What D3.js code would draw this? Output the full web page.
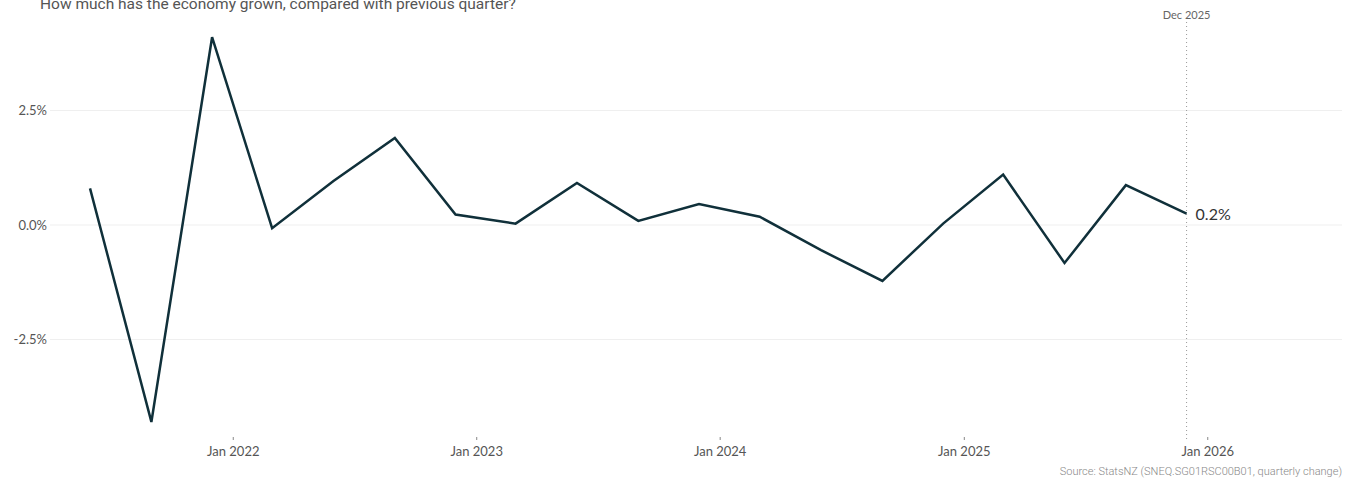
<!DOCTYPE html>
<html>
<head>
  <meta charset="utf-8">
  <title>NZ GDP quarterly change</title>
  <script src="https://d3js.org/d3.v7.min.js"></script>
  <style>
    body { margin: 0; background: #fff; }
    svg { display: block; }
  </style>
</head>
<body>
  <script>
    // quarterly growth, % change on previous quarter
    var quarters = ["2021-06", "2021-09", "2021-12", "2022-03", "2022-06", "2022-09", "2022-12",
      "2023-03", "2023-06", "2023-09", "2023-12", "2024-03", "2024-06", "2024-09", "2024-12",
      "2025-03", "2025-06", "2025-09", "2025-12"];
    var growth = [0.8, -4.3, 4.1, -0.07, 0.96, 1.9, 0.23, 0.03, 0.92, 0.09, 0.46, 0.18, -0.55,
      -1.22, 0.03, 1.1, -0.83, 0.87, 0.25];
    var yTicks = [-2.5, 0, 2.5];
    var xTickYears = [2022, 2023, 2024, 2025, 2026];
    var endLabel = "0.2%";
    var markerLabel = "Dec 2025";

    var width = 1355, height = 484;
    var parse = d3.timeParse("%Y-%m");
    var data = quarters.map(function (q, i) { return { date: parse(q), value: growth[i] }; });

    var svg = d3.select("body").append("svg").attr("width", width).attr("height", height);

    var x = d3.scaleTime()
      .domain([new Date(2021, 3, 2), new Date(2026, 6, 22)])
      .range([50, 1342]);
    var y = d3.scaleLinear()
      .domain([-5, 5])
      .range([454, -4]);

    // title (partly above the top edge, as in the source)
    svg.append("text")
      .attr("x", 40).attr("y", 9)
      .attr("font-family", "Roboto, 'Liberation Sans', sans-serif")
      .attr("font-size", 15.5)
      .attr("fill", "#555")
      .text("How much has the economy grown, compared with previous quarter?");

    // grid
    svg.append("g").selectAll("line")
      .data(yTicks).enter().append("line")
      .attr("x1", 50).attr("x2", 1342)
      .attr("y1", function (d) { return y(d); })
      .attr("y2", function (d) { return y(d); })
      .attr("stroke", "#efefef").attr("stroke-width", 1);

    svg.append("g").selectAll("text")
      .data(yTicks).enter().append("text")
      .attr("x", 47)
      .attr("y", function (d) { return y(d); })
      .attr("dy", "0.35em")
      .attr("text-anchor", "end")
      .attr("font-family", "Lato, sans-serif")
      .attr("font-size", 13)
      .attr("fill", "#555")
      .text(function (d) { return d.toFixed(1) + "%"; });

    // x axis
    var xAxis = d3.axisBottom(x)
      .tickValues(xTickYears.map(function (yr) { return new Date(yr, 0, 1); }))
      .tickFormat(d3.timeFormat("Jan %Y"))
      .tickSize(3)
      .tickPadding(7);
    var gx = svg.append("g")
      .attr("transform", "translate(0,437)")
      .call(xAxis);
    gx.select(".domain").remove();
    gx.selectAll(".tick line").attr("stroke", "#888");
    gx.selectAll(".tick text")
      .attr("font-family", "Lato, sans-serif")
      .attr("font-size", 13)
      .attr("fill", "#555");

    // marker for latest quarter
    var last = data[data.length - 1];
    svg.append("line")
      .attr("x1", x(last.date)).attr("x2", x(last.date))
      .attr("y1", 22).attr("y2", 440)
      .attr("stroke", "#999").attr("stroke-width", 1)
      .attr("stroke-dasharray", "1,3");
    svg.append("text")
      .attr("x", x(last.date)).attr("y", 19)
      .attr("text-anchor", "middle")
      .attr("font-family", "Lato, sans-serif")
      .attr("font-size", 11)
      .attr("fill", "#666")
      .text(markerLabel);

    // line
    var line = d3.line()
      .x(function (d) { return x(d.date); })
      .y(function (d) { return y(d.value); });
    svg.append("path")
      .datum(data)
      .attr("d", line)
      .attr("fill", "none")
      .attr("stroke", "#10303a")
      .attr("stroke-width", 2.5)
      .attr("stroke-linejoin", "miter");

    svg.append("text")
      .attr("x", x(last.date) + 9)
      .attr("y", y(last.value) + 1)
      .attr("dy", "0.35em")
      .attr("font-family", "Lato, sans-serif")
      .attr("font-size", 16)
      .attr("fill", "#333")
      .text(endLabel);

    // source
    svg.append("text")
      .attr("x", 1342).attr("y", 475)
      .attr("text-anchor", "end")
      .attr("font-family", "Roboto, sans-serif")
      .attr("font-size", 11)
      .attr("font-weight", 300)
      .attr("fill", "#888")
      .text("Source: StatsNZ (SNEQ.SG01RSC00B01, quarterly change)");
  </script>
</body>
</html>
